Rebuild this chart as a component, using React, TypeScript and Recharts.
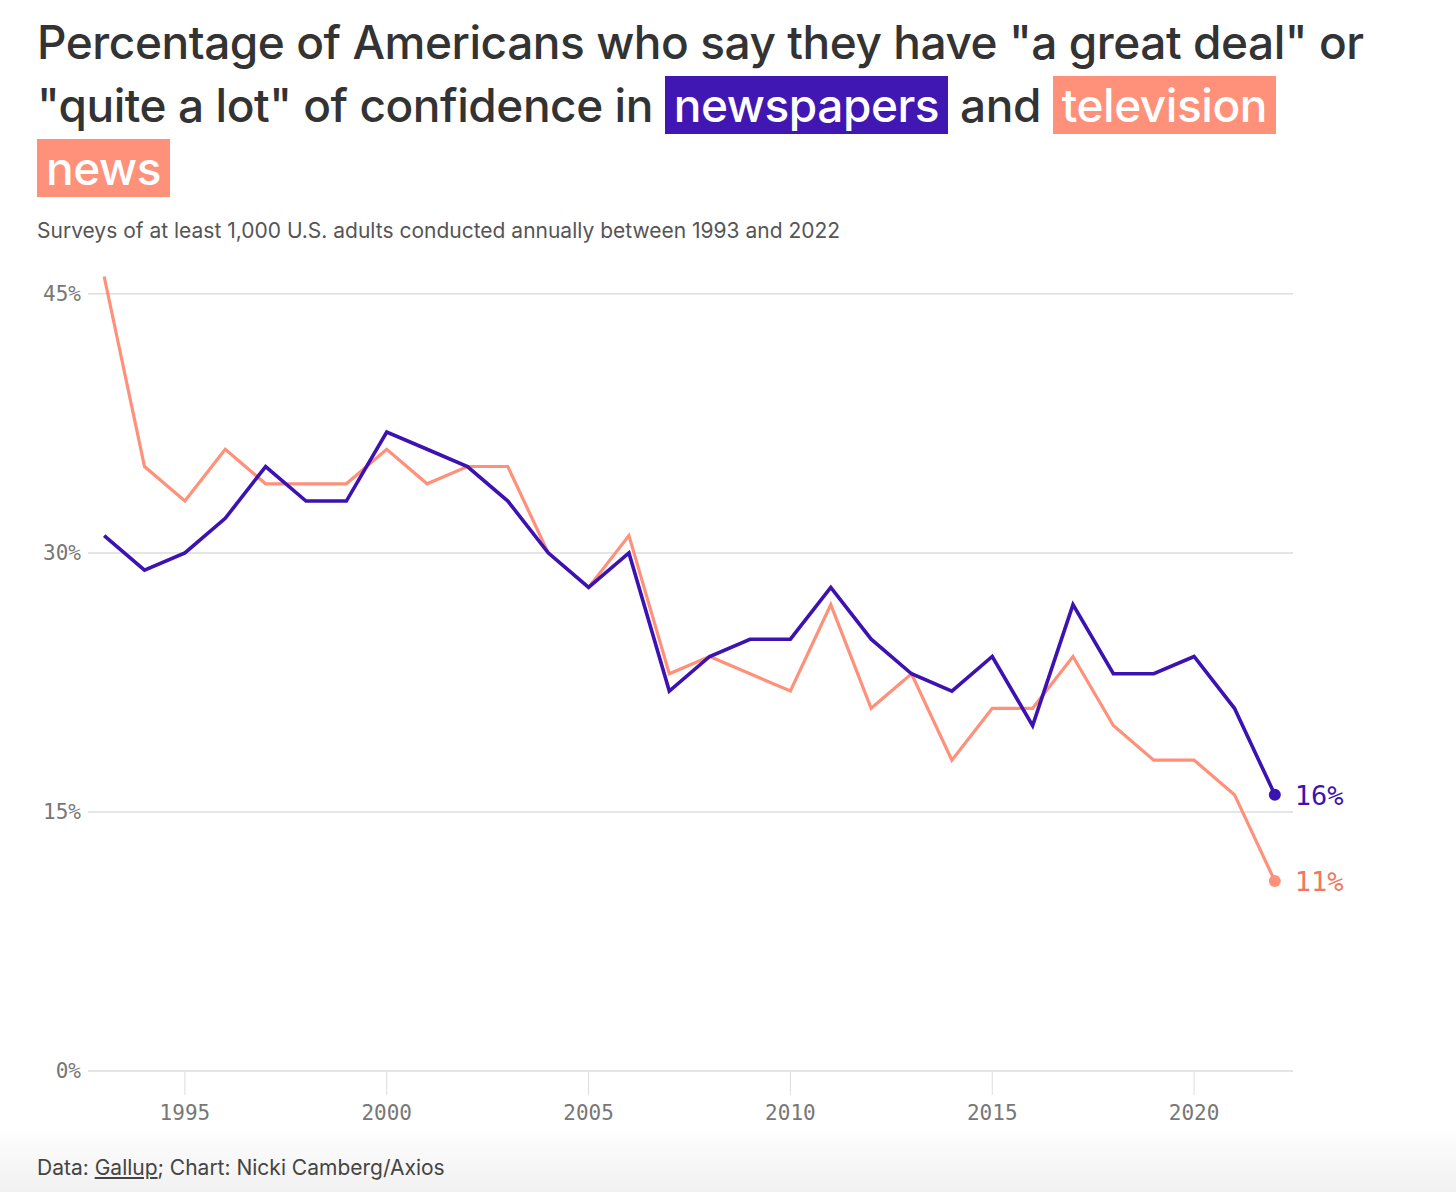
import React from 'react';
import { LineChart, Line, XAxis, YAxis, CartesianGrid } from 'recharts';

const years = [1993, 1994, 1995, 1996, 1997, 1998, 1999, 2000, 2001, 2002, 2003, 2004, 2005, 2006, 2007, 2008, 2009, 2010, 2011, 2012, 2013, 2014, 2015, 2016, 2017, 2018, 2019, 2020, 2021, 2022];
const newspapers = [31, 29, 30, 32, 35, 33, 33, 37, 36, 35, 33, 30, 28, 30, 22, 24, 25, 25, 28, 25, 23, 22, 24, 20, 27, 23, 23, 24, 21, 16];
const television = [46, 35, 33, 36, 34, 34, 34, 36, 34, 35, 35, 30, 28, 31, 23, 24, 23, 22, 27, 21, 23, 18, 21, 21, 24, 20, 18, 18, 16, 11];
const xTicks = [1995, 2000, 2005, 2010, 2015, 2020];
const yTicks = [0, 15, 30, 45];

const BLUE = '#3c12b3';
const ORANGE = '#ff907a';
const ORANGE_TEXT = '#f07760';

const data = years.map((y, i) => ({ year: y, newspapers: newspapers[i], television: television[i] }));

const makeDot = (color: string, textColor: string) => (props: any) => {
  const { cx, cy, index, value } = props;
  if (index !== data.length - 1) return <g key={`d-${index}`} />;
  return (
    <g key={`d-${index}`}>
      <circle cx={cx} cy={cy} r={6} fill={color} />
      <text x={cx + 20} y={cy} dy="0.38em" fill={textColor} fontSize={27} fontFamily="'DejaVu Sans Mono', monospace">
        {value}%
      </text>
    </g>
  );
};

const titleFont = "Inter, Roboto, 'Noto Sans', sans-serif";
const monoFont = "'DejaVu Sans Mono', monospace";

const hl = (bg: string): React.CSSProperties => ({
  display: 'inline-block',
  background: bg,
  color: '#ffffff',
  lineHeight: '58px',
  height: 58,
  padding: '0 9px',
});

export default function App() {
  return (
    <div style={{ position: 'absolute', left: 0, top: 0, width: 1456, height: 1192, overflow: 'hidden', background: '#ffffff' }}>
      <div style={{ position: 'absolute', left: 37, top: 11, fontFamily: titleFont, fontSize: 46, fontWeight: 500, letterSpacing: '-0.45px', lineHeight: '63px', color: '#333333', whiteSpace: 'nowrap' }}>
        <div>Percentage of Americans who say they have "a great deal" or</div>
        <div>
          "quite a lot" of confidence in <span style={hl('#4017b3')}>newspapers</span> and <span style={hl('#ff917a')}>television</span>
        </div>
        <div>
          <span style={{ ...hl('#ff917a') }}>news</span>
        </div>
      </div>
      <div style={{ position: 'absolute', left: 37, top: 218, fontFamily: titleFont, fontSize: 21, color: '#555555', whiteSpace: 'nowrap' }}>
        Surveys of at least 1,000 U.S. adults conducted annually between 1993 and 2022
      </div>
      <div style={{ position: 'absolute', left: 0, top: 232 }}>
        <LineChart width={1456} height={908} data={data} margin={{ top: 10, right: 163, bottom: 9, left: 0 }}>
          <CartesianGrid vertical={false} stroke="#dddddd" strokeWidth={1.5} horizontalValues={yTicks} />
          <XAxis
            dataKey="year"
            type="number"
            domain={[1992.6, 2022.45]}
            ticks={xTicks}
            interval={0}
            height={60}
            axisLine={false}
            tickLine={{ stroke: '#dddddd' }}
            tickSize={24}
            tickMargin={10}
            tick={{ fill: '#777777', fontSize: 21, fontFamily: monoFont }}
          />
          <YAxis
            type="number"
            domain={[0, 48]}
            ticks={yTicks}
            interval={0}
            width={88}
            axisLine={false}
            tickLine={false}
            tickSize={0}
            tickMargin={7}
            tickFormatter={(v: number) => `${v}%`}
            tick={{ fill: '#777777', fontSize: 21, fontFamily: monoFont }}
          />
          <Line
            dataKey="television"
            stroke={ORANGE}
            strokeWidth={3.2}
            dot={makeDot(ORANGE, ORANGE_TEXT)}
            activeDot={false}
            isAnimationActive={false}
            strokeLinejoin="miter"
          />
          <Line
            dataKey="newspapers"
            stroke={BLUE}
            strokeWidth={3.6}
            dot={makeDot(BLUE, BLUE)}
            activeDot={false}
            isAnimationActive={false}
            strokeLinejoin="miter"
          />
        </LineChart>
      </div>
      <div style={{ position: 'absolute', left: 0, top: 1125, width: 1456, height: 67, background: 'linear-gradient(to bottom, #ffffff, #f1f1f1)' }} />
      <div style={{ position: 'absolute', left: 37, top: 1155, fontFamily: titleFont, fontSize: 21, color: '#444444', whiteSpace: 'nowrap' }}>
        Data: <span style={{ textDecoration: 'underline' }}>Gallup</span>; Chart: Nicki Camberg/Axios
      </div>
    </div>
  );
}
